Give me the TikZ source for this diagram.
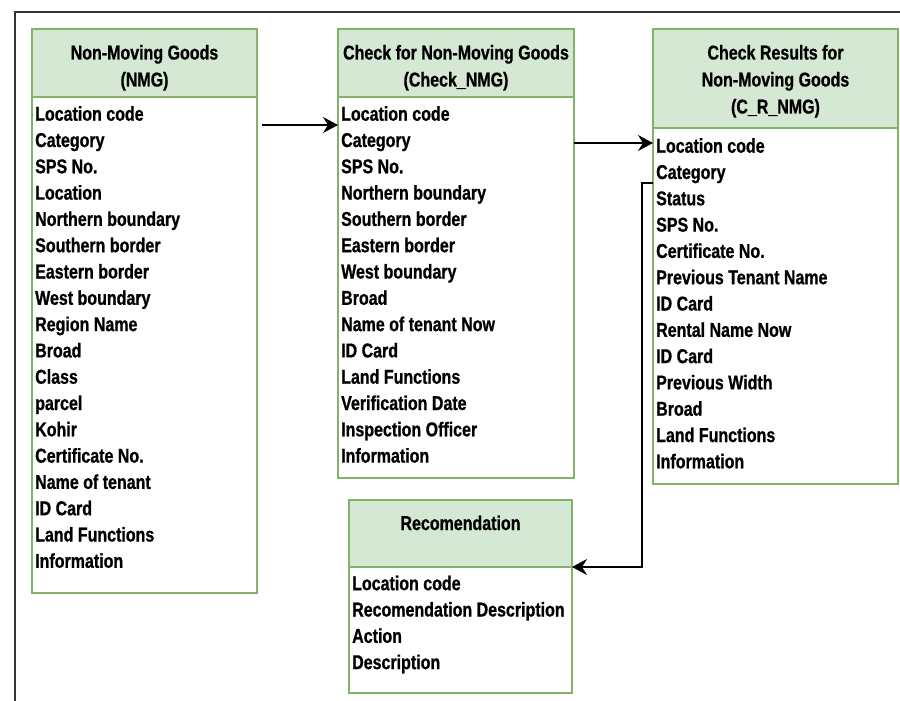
\documentclass[tikz,border=0pt]{standalone}
\usepackage{fontspec}
\setmainfont{Liberation Sans}[FakeStretch=0.8, BoldFeatures={FakeBold=0.8}]
\usetikzlibrary{arrows.meta}
\definecolor{hdrfill}{HTML}{D5E8D4}
\definecolor{hdrline}{HTML}{82B366}
\definecolor{framegray}{HTML}{333333}
\tikzset{
  hdrbox/.style={draw=hdrline, fill=hdrfill, line width=1.4pt, inner sep=0pt, outer sep=0pt, anchor=north west},
  bodybox/.style={draw=hdrline, fill=white, line width=1.4pt, inner sep=0pt, outer sep=0pt, anchor=north west},
  field/.style={inner sep=0pt, anchor=base west, font=\fontsize{20}{24}\selectfont\bfseries},
  title/.style={inner sep=0pt, anchor=base, font=\fontsize{20}{24}\selectfont\bfseries},
  conn/.style={line width=1.4pt, -{Stealth[length=15pt,width=16pt,inset=5pt]}},
  frameline/.style={draw=framegray, line width=1.5pt}
}
\begin{document}
\begin{tikzpicture}[x=1pt,y=-1pt]
\useasboundingbox (0,0) rectangle (900,701);
% outer frame
\draw[frameline] (15,705) -- (15,12) -- (905,12);

% Non-Moving Goods
\node[hdrbox, minimum width=225pt, minimum height=68pt] (nmgH) at (32,29) {};
\node[bodybox, minimum width=225pt, minimum height=496pt] (nmgB) at (nmgH.south west) {};
\node[title] (nmgT1) at (144.5,59.5) {Non-Moving Goods};
\node[title] (nmgT2) at (144.5,86.5) {(NMG)};
\foreach \t [count=\i from 0] in {Location code,Category,SPS No.,Location,Northern boundary,Southern border,Eastern border,West boundary,Region Name,Broad,Class,parcel,Kohir,Certificate No.,Name of tenant,ID Card,Land Functions,Information}
  \node[field] (nmg-\i) at (35,120.7+26.3*\i) {\t};

% Check for Non-Moving Goods
\node[hdrbox, minimum width=236pt, minimum height=68pt] (chkH) at (338,29) {};
\node[bodybox, minimum width=236pt, minimum height=381pt] (chkB) at (chkH.south west) {};
\node[title] (chkT1) at (456,59.5) {Check for Non-Moving Goods};
\node[title] (chkT2) at (456,86.5) {(Check\_NMG)};
\foreach \t [count=\i from 0] in {Location code,Category,SPS No.,Northern boundary,Southern border,Eastern border,West boundary,Broad,Name of tenant Now,ID Card,Land Functions,Verification Date,Inspection Officer,Information}
  \node[field] (chk-\i) at (341,120.7+26.3*\i) {\t};

% Check Results for Non-Moving Goods
\node[hdrbox, minimum width=245pt, minimum height=99pt] (crH) at (653,29) {};
\node[bodybox, minimum width=245pt, minimum height=356pt] (crB) at (crH.south west) {};
\node[title] (crT1) at (775.5,59.5) {Check Results for};
\node[title] (crT2) at (775.5,86.5) {Non-Moving Goods};
\node[title] (crT3) at (775.5,113.5) {(C\_R\_NMG)};
\foreach \t [count=\i from 0] in {Location code,Category,Status,SPS No.,Certificate No.,Previous Tenant Name,ID Card,Rental Name Now,ID Card,Previous Width,Broad,Land Functions,Information}
  \node[field] (cr-\i) at (656,152.7+26.3*\i) {\t};

% Recomendation
\node[hdrbox, minimum width=223pt, minimum height=67pt] (recH) at (349,500) {};
\node[bodybox, minimum width=223pt, minimum height=126pt] (recB) at (recH.south west) {};
\node[title] (recT1) at (460.5,530) {Recomendation};
\foreach \t [count=\i from 0] in {Location code,Recomendation Description,Action,Description}
  \node[field] (rec-\i) at (352,590.2+26.3*\i) {\t};

% connectors
\coordinate (a1) at (262,125);
\draw[conn] (a1) -- (chkB.west |- a1);
\coordinate (r2) at (600,143);
\draw[conn] (chkB.east |- r2) -- (crB.west |- r2);
\coordinate (r3) at (642,183);
\draw[conn] (crB.west |- r3) -- (r3) -- (r3 |- recH.south east) -- (recH.south east);
\end{tikzpicture}
\end{document}
